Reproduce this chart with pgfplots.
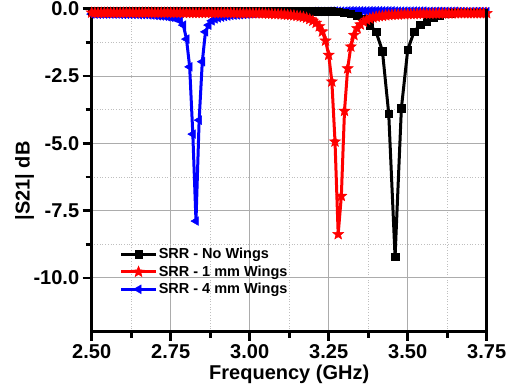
\documentclass[border=0pt]{standalone}
\usepackage{fontspec}
\setmainfont{Liberation Sans}
\usepackage{pgfplots}
\pgfplotsset{compat=1.18}
\pgfdeclareplotmark{fstar}{%
  \pgfpathmoveto{\pgfpointpolar{90}{1.15\pgfplotmarksize}}%
  \pgfpathlineto{\pgfpointpolar{126}{0.5\pgfplotmarksize}}%
  \pgfpathlineto{\pgfpointpolar{162}{1.15\pgfplotmarksize}}%
  \pgfpathlineto{\pgfpointpolar{198}{0.5\pgfplotmarksize}}%
  \pgfpathlineto{\pgfpointpolar{234}{1.15\pgfplotmarksize}}%
  \pgfpathlineto{\pgfpointpolar{270}{0.5\pgfplotmarksize}}%
  \pgfpathlineto{\pgfpointpolar{306}{1.15\pgfplotmarksize}}%
  \pgfpathlineto{\pgfpointpolar{342}{0.5\pgfplotmarksize}}%
  \pgfpathlineto{\pgfpointpolar{18}{1.15\pgfplotmarksize}}%
  \pgfpathlineto{\pgfpointpolar{54}{0.5\pgfplotmarksize}}%
  \pgfpathclose
  \pgfusepathqfillstroke
}
\begin{document}
\begin{tikzpicture}
\begin{axis}[
  scale only axis, width=395pt, height=323pt,
  xmin=2.5, xmax=3.75, ymin=-12, ymax=0,
  axis x line*=bottom, axis y line*=left,
  axis line style={line width=3pt, black},
  xtick={2.5,2.75,3,3.25,3.5,3.75},
  xticklabels={2.50,2.75,3.00,3.25,3.50,3.75},
  ytick={0,-2.5,-5,-7.5,-10},
  yticklabels={0.0,-2.5,-5.0,-7.5,-10.0},
  minor x tick num=1, minor y tick num=1,
  tick align=outside,
  major tick length=9pt, minor tick length=6pt,
  tick style={line width=2.6pt, black},
  grid=both,
  major grid style={gray!65, line width=0.9pt, solid},
  minor grid style={gray!50, line width=0.7pt, dotted},
  ticklabel style={font=\fontsize{20}{24}\selectfont\bfseries},
  xlabel={Frequency (GHz)},
  xlabel style={at={(axis description cs:0.5,-0.1495)}, anchor=base, font=\fontsize{20}{24}\selectfont\bfseries},
  ylabel={|S21| dB},
  ylabel style={at={(axis description cs:-0.17,0.467)}, anchor=center, font=\fontsize{20}{24}\selectfont\bfseries},
  legend style={draw=none, fill=none, at={(axis description cs:0.07,0.262)}, anchor=north west,
    font=\fontsize{14.5}{17}\selectfont\bfseries, row sep=3pt, inner sep=0pt,
    nodes={inner sep=1.2pt}},
  legend cell align=left,
  legend image code/.code={\draw[mark repeat=2,mark phase=2] plot coordinates {(0pt,0pt) (17.5pt,0pt) (35pt,0pt)};},
]
\addlegendimage{black, line width=3pt, mark=square*, mark size=3.8pt, mark options={line width=0.5pt}}
\addlegendentry{SRR - No Wings}
\addlegendimage{red, line width=3pt, mark=fstar, mark size=5pt, mark options={line width=0.5pt}}
\addlegendentry{SRR - 1 mm Wings}
\addlegendimage{blue, line width=3pt, mark=triangle*, mark size=5pt, mark options={line width=0.5pt, rotate=90}}
\addlegendentry{SRR - 4 mm Wings}

% SRR - 4 mm Wings
\addplot[forget plot, blue, line width=3pt, mark=triangle*, mark size=5pt, mark options={line width=0.5pt, rotate=90}] coordinates {
(2.50,-0.20)(2.51,-0.20)(2.52,-0.20)(2.53,-0.20)(2.54,-0.20)(2.55,-0.20)(2.56,-0.20)(2.57,-0.20)(2.58,-0.20)(2.59,-0.21)
(2.60,-0.21)(2.61,-0.21)(2.62,-0.21)(2.63,-0.21)(2.64,-0.21)(2.65,-0.22)(2.66,-0.22)(2.67,-0.22)(2.68,-0.23)(2.69,-0.24)
(2.70,-0.25)(2.71,-0.26)(2.72,-0.27)(2.73,-0.28)(2.74,-0.30)(2.75,-0.32)(2.76,-0.34)(2.77,-0.38)(2.78,-0.45)(2.79,-0.61)
(2.80,-1.13)(2.81,-2.16)(2.82,-4.66)(2.83,-7.89)(2.84,-4.14)(2.85,-1.97)(2.86,-0.86)(2.87,-0.61)(2.88,-0.45)(2.89,-0.38)
(2.90,-0.34)(2.91,-0.31)(2.92,-0.29)(2.93,-0.27)(2.94,-0.25)(2.95,-0.24)(2.96,-0.23)(2.97,-0.22)(2.98,-0.21)(2.99,-0.20)
(3.00,-0.19)(3.01,-0.18)(3.02,-0.17)(3.03,-0.16)(3.04,-0.16)(3.05,-0.15)(3.06,-0.14)(3.07,-0.14)(3.08,-0.14)(3.09,-0.13)
(3.10,-0.13)(3.11,-0.13)(3.12,-0.12)(3.13,-0.12)(3.14,-0.12)(3.15,-0.12)(3.16,-0.11)(3.17,-0.11)(3.18,-0.11)(3.19,-0.11)
(3.20,-0.10)(3.21,-0.10)(3.22,-0.10)(3.23,-0.10)(3.24,-0.10)(3.25,-0.09)(3.26,-0.09)(3.27,-0.09)(3.28,-0.09)(3.29,-0.09)
(3.30,-0.09)(3.31,-0.08)(3.32,-0.08)(3.33,-0.08)(3.34,-0.08)(3.35,-0.08)(3.36,-0.08)(3.37,-0.08)(3.38,-0.08)(3.39,-0.08)
(3.40,-0.08)(3.41,-0.08)(3.42,-0.08)(3.43,-0.08)(3.44,-0.08)(3.45,-0.08)(3.46,-0.09)(3.47,-0.09)(3.48,-0.09)(3.49,-0.09)
(3.50,-0.09)(3.51,-0.09)(3.52,-0.09)(3.53,-0.09)(3.54,-0.09)(3.55,-0.09)(3.56,-0.10)(3.57,-0.10)(3.58,-0.10)(3.59,-0.10)
(3.60,-0.10)(3.61,-0.10)(3.62,-0.10)(3.63,-0.10)(3.64,-0.10)(3.65,-0.10)(3.66,-0.11)(3.67,-0.11)(3.68,-0.11)(3.69,-0.11)
(3.70,-0.11)(3.71,-0.11)(3.72,-0.11)(3.73,-0.11)(3.74,-0.11)(3.75,-0.11)
};
% SRR - No Wings
\addplot[forget plot, black, line width=3pt, mark=square*, mark size=3.8pt, mark options={line width=0.5pt}] coordinates {
(2.50,-0.10)(2.52,-0.10)(2.54,-0.10)(2.56,-0.10)(2.58,-0.10)(2.60,-0.10)(2.62,-0.10)(2.64,-0.10)(2.66,-0.10)(2.68,-0.10)
(2.70,-0.10)(2.72,-0.10)(2.74,-0.10)(2.76,-0.10)(2.78,-0.10)(2.80,-0.10)(2.82,-0.10)(2.84,-0.10)(2.86,-0.10)(2.88,-0.10)
(2.90,-0.10)(2.92,-0.10)(2.94,-0.10)(2.96,-0.10)(2.98,-0.10)(3.00,-0.10)(3.02,-0.10)(3.04,-0.10)(3.06,-0.10)(3.08,-0.10)
(3.10,-0.10)(3.12,-0.10)(3.14,-0.10)(3.16,-0.10)(3.18,-0.10)(3.20,-0.10)(3.22,-0.10)(3.24,-0.10)(3.26,-0.10)(3.28,-0.12)
(3.30,-0.15)(3.32,-0.19)(3.34,-0.26)(3.36,-0.38)(3.38,-0.61)(3.40,-0.86)(3.42,-1.57)(3.44,-3.91)(3.46,-9.22)(3.48,-3.70)
(3.50,-1.53)(3.52,-0.86)(3.54,-0.60)(3.56,-0.47)(3.58,-0.34)(3.60,-0.24)(3.62,-0.19)(3.64,-0.16)(3.66,-0.15)(3.68,-0.15)
(3.70,-0.15)(3.72,-0.15)(3.74,-0.15)
};
% SRR - 1 mm Wings
\addplot[forget plot, red, line width=3pt, mark=fstar, mark size=5pt, mark options={line width=0.5pt}] coordinates {
(2.50,-0.15)(2.51,-0.15)(2.52,-0.15)(2.53,-0.15)(2.54,-0.15)(2.55,-0.15)(2.56,-0.15)(2.57,-0.15)(2.58,-0.15)(2.59,-0.15)
(2.60,-0.15)(2.61,-0.15)(2.62,-0.15)(2.63,-0.15)(2.64,-0.15)(2.65,-0.15)(2.66,-0.15)(2.67,-0.15)(2.68,-0.15)(2.69,-0.15)
(2.70,-0.15)(2.71,-0.15)(2.72,-0.15)(2.73,-0.15)(2.74,-0.15)(2.75,-0.15)(2.76,-0.15)(2.77,-0.15)(2.78,-0.15)(2.79,-0.16)
(2.80,-0.16)(2.81,-0.16)(2.82,-0.16)(2.83,-0.16)(2.84,-0.16)(2.85,-0.16)(2.86,-0.16)(2.87,-0.16)(2.88,-0.16)(2.89,-0.16)
(2.90,-0.16)(2.91,-0.16)(2.92,-0.16)(2.93,-0.16)(2.94,-0.16)(2.95,-0.16)(2.96,-0.17)(2.97,-0.17)(2.98,-0.17)(2.99,-0.17)
(3.00,-0.17)(3.01,-0.17)(3.02,-0.17)(3.03,-0.17)(3.04,-0.18)(3.05,-0.18)(3.06,-0.19)(3.07,-0.19)(3.08,-0.20)(3.09,-0.20)
(3.10,-0.21)(3.11,-0.22)(3.12,-0.23)(3.13,-0.24)(3.14,-0.25)(3.15,-0.27)(3.16,-0.29)(3.17,-0.31)(3.18,-0.34)(3.19,-0.39)
(3.20,-0.45)(3.21,-0.53)(3.22,-0.66)(3.23,-0.85)(3.24,-1.19)(3.25,-1.72)(3.26,-2.71)(3.27,-4.94)(3.28,-8.38)(3.29,-6.96)
(3.30,-3.80)(3.31,-2.22)(3.32,-1.41)(3.33,-0.98)(3.34,-0.73)(3.35,-0.59)(3.36,-0.49)(3.37,-0.42)(3.38,-0.37)(3.39,-0.33)
(3.40,-0.30)(3.41,-0.28)(3.42,-0.27)(3.43,-0.25)(3.44,-0.24)(3.45,-0.23)(3.46,-0.22)(3.47,-0.22)(3.48,-0.21)(3.49,-0.21)
(3.50,-0.20)(3.51,-0.20)(3.52,-0.20)(3.53,-0.19)(3.54,-0.19)(3.55,-0.19)(3.56,-0.19)(3.57,-0.19)(3.58,-0.18)(3.59,-0.18)
(3.60,-0.18)(3.61,-0.18)(3.62,-0.18)(3.63,-0.18)(3.64,-0.18)(3.65,-0.17)(3.66,-0.17)(3.67,-0.17)(3.68,-0.17)(3.69,-0.17)
(3.70,-0.17)(3.71,-0.17)(3.72,-0.17)(3.73,-0.17)(3.74,-0.17)(3.75,-0.17)
};
\coordinate (sw) at (rel axis cs:0,0);
\coordinate (br) at (rel axis cs:1,0);
\coordinate (tr) at (rel axis cs:1,1);
\end{axis}
\draw[line width=3pt, black] ([yshift=-1.5pt]br) -- (tr);
\pgfresetboundingbox
\path[use as bounding box] ([shift={(-91.7pt,-57.3pt)}]sw) rectangle ++(514pt,389pt);
\end{tikzpicture}
\end{document}
